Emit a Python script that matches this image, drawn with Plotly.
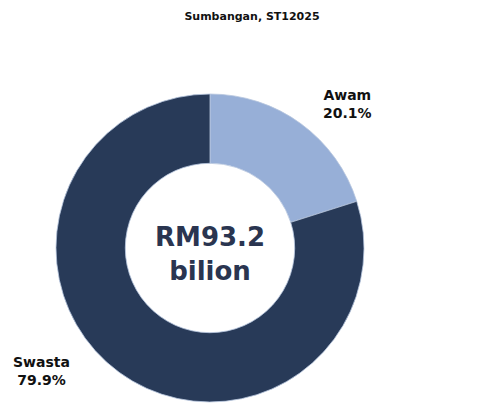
import plotly.graph_objects as go

categories = ["Awam", "Swasta"]
shares = [20.1, 79.9]
total_label = "RM93.2<br>bilion"
title_text = "Sumbangan, ST12025"

# page body has an 8px margin, so figure coords = screen coords - 8
OFF = 8
W, H = 494, 399
cx, cy, r = 210 - OFF, 248 - OFF, 154

fig = go.Figure(go.Pie(
    labels=categories,
    values=shares,
    hole=0.55,
    sort=False,
    direction="clockwise",
    rotation=0,
    marker=dict(colors=["#97afd7", "#283a58"], line=dict(color="#b8c6de", width=0.8)),
    textinfo="none",
    hoverinfo="label+percent",
    showlegend=False,
    domain=dict(x=[(cx - r) / W, (cx + r) / W], y=[(H - cy - r) / H, (H - cy + r) / H]),
))

font_family = "'DejaVu Sans', sans-serif"

def px(x, y):
    return (x - OFF) / W, 1 - (y - OFF) / H

def label(x, y, text, size, color):
    ax, ay = px(x, y)
    fig.add_annotation(x=ax, y=ay, xref="paper", yref="paper", xanchor="center", yanchor="middle",
                       text=text, showarrow=False,
                       font=dict(family=font_family, size=size, color=color))

label(210, 254, f"<b>{total_label}</b>", 26, "#2a3550")
label(347, 104, f"<b>{categories[0]}<br>{shares[0]}%</b>", 14, "#111111")
label(41, 371, f"<b>{categories[1]}<br>{shares[1]}%</b>", 14, "#111111")

tx, ty = px(252, 16)
fig.update_layout(
    width=W, height=H,
    margin=dict(l=0, r=0, t=0, b=0),
    paper_bgcolor="white", plot_bgcolor="white",
    title=dict(text=f"<b>{title_text}</b>", x=tx, xanchor="center", y=ty, yanchor="middle",
               font=dict(family=font_family, size=11, color="#111111")),
)

fig.write_html("out.html")
